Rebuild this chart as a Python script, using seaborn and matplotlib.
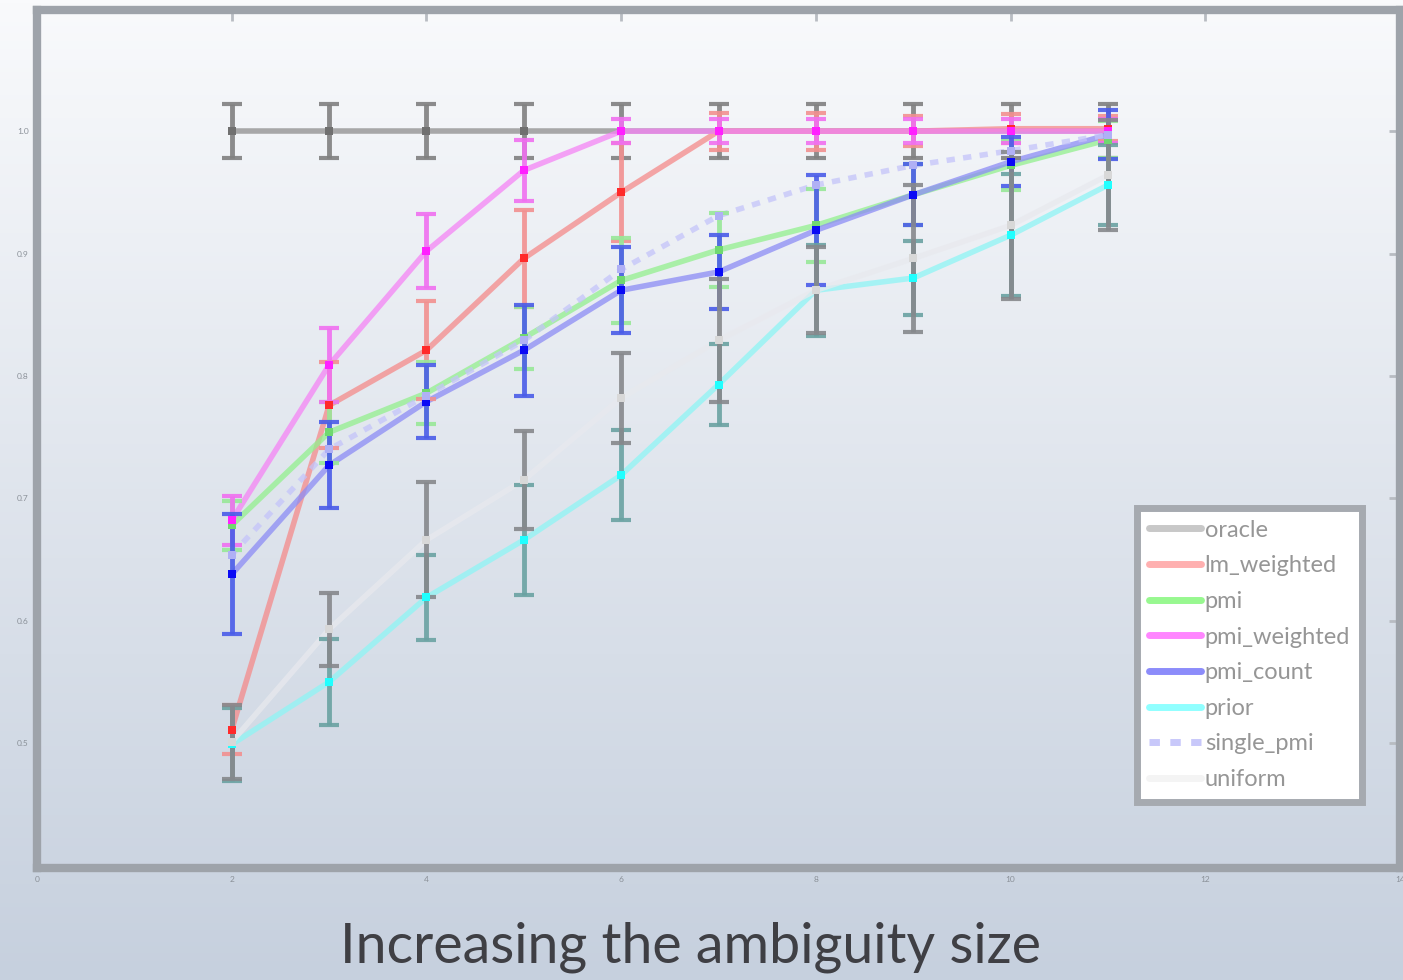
import numpy as np
import pandas as pd
import seaborn as sns
import matplotlib.pyplot as plt
from matplotlib.lines import Line2D
#---------------------------------------------------------------------------#
sizes = [2, 3, 4, 5, 6, 7, 8, 9, 10, 11]

methods = ['oracle', 'lm_weighted', 'pmi', 'pmi_weighted',
           'pmi_count', 'prior', 'single_pmi', 'uniform']

oracle = [1.0, 1.0, 1.0, 1.0, 1.0, 1.0, 1.0, 1.0, 1.0, 1.0]
oracle_err = [0.022, 0.022, 0.022, 0.022, 0.022, 0.022, 0.022, 0.022, 0.022, 0.022]

lm_weighted = [0.511, 0.776, 0.821, 0.896, 0.950, 1.0, 1.0, 1.0, 1.002, 1.002]
lm_weighted_err = [0.02, 0.035, 0.04, 0.04, 0.04, 0.015, 0.015, 0.012, 0.012, 0.01]

pmi = [0.678, 0.754, 0.786, 0.831, 0.878, 0.903, 0.923, 0.948, 0.972, 0.993]
pmi_err = [0.02, 0.025, 0.025, 0.025, 0.035, 0.03, 0.03, 0.025, 0.02, 0.015]

pmi_weighted = [0.682, 0.809, 0.902, 0.968, 1.0, 1.0, 1.0, 1.0, 1.0, 1.0]
pmi_weighted_err = [0.02, 0.03, 0.03, 0.025, 0.01, 0.01, 0.01, 0.01, 0.01, 0.01]

pmi_count = [0.638, 0.727, 0.779, 0.821, 0.870, 0.885, 0.919, 0.948, 0.975, 0.997]
pmi_count_err = [0.049, 0.035, 0.03, 0.037, 0.035, 0.03, 0.045, 0.025, 0.02, 0.02]

prior = [0.499, 0.550, 0.619, 0.666, 0.719, 0.793, 0.870, 0.880, 0.915, 0.956]
prior_err = [0.03, 0.035, 0.035, 0.045, 0.037, 0.033, 0.037, 0.03, 0.05, 0.033]

single_pmi = [0.654, 0.740, 0.784, 0.829, 0.887, 0.931, 0.956, 0.972, 0.984, 0.997]

uniform = [0.501, 0.593, 0.666, 0.715, 0.782, 0.829, 0.870, 0.896, 0.923, 0.964]
uniform_err = [0.03, 0.03, 0.047, 0.04, 0.037, 0.05, 0.035, 0.06, 0.06, 0.045]

values = [oracle, lm_weighted, pmi, pmi_weighted, pmi_count, prior, single_pmi, uniform]
errors = [oracle_err, lm_weighted_err, pmi_err, pmi_weighted_err,
          pmi_count_err, prior_err, None, uniform_err]

line_colors = ['#8E8E8E', '#F58A8A', '#93F08E', '#F584F5',
               '#8C8CF5', '#8EF5F5', '#C4C4FA', '#E8E9EE']
err_colors = ['#808080', '#F29090', '#98E898', '#F070F0',
              '#4A5CE8', '#6AA2A2', '#B8B8F5', '#86888C']
point_colors = ['#707070', '#FF2A2A', '#70D870', '#FF20FF',
                '#0A0AF5', '#20FFFF', '#B0B0F5', '#D8D8D8']
legend_colors = ['#C8C8C8', '#FFB0B0', '#98F890', '#FF86FF',
                 '#8C8CFA', '#90FFFF', '#C8C8FA', '#F4F4F4']

rows = []
for m, v in zip(methods, values):
    for s, a in zip(sizes, v):
        rows.append({'size': s, 'accuracy': a, 'method': m})
df = pd.DataFrame(rows)

sns.set_style('white')
plt.rcParams['font.family'] = ['Lato', 'DejaVu Sans']

fig = plt.figure(figsize=(14.03, 9.8), dpi=100)

# slide background gradient
bg = fig.add_axes([0, 0, 1, 1], zorder=-10)
top = np.array([249, 250, 252]) / 255
bot = np.array([198, 208, 222]) / 255
t = np.linspace(0, 1, 256)[:, None]
grad = top + (bot - top) * t
bg.imshow(grad[:, None, :], aspect='auto', extent=[0, 1, 0, 1])
bg.axis('off')

ax = fig.add_axes([0.0264, 0.1143, 0.9715, 0.8755])
ax.set_facecolor('none')

palette = dict(zip(methods, line_colors))
dashes = {m: '' for m in methods}
dashes['single_pmi'] = (1.5, 1.5)
sns.lineplot(data=df, x='size', y='accuracy', hue='method', style='method',
             palette=palette, dashes=dashes, linewidth=4, alpha=0.75,
             legend=False, ax=ax, zorder=2)

for i, (m, v, e) in enumerate(zip(methods, values, errors)):
    if e is not None:
        ax.errorbar(sizes, v, yerr=e, fmt='none', ecolor=err_colors[i],
                    elinewidth=3.5, capsize=7, capthick=3, alpha=0.9, zorder=3)
    ax.plot(sizes, v, linestyle='none', marker='s', markersize=6,
            color=point_colors[i], markeredgewidth=0, zorder=4)

ax.set_xlim(0, 14)
ax.set_ylim(0.398, 1.099)
ax.set_xticks([0, 2, 4, 6, 8, 10, 12, 14])
ax.set_yticks([0.5, 0.6, 0.7, 0.8, 0.9, 1.0])
ax.tick_params(axis='both', which='both', direction='in', length=8, width=2,
               color='#B8BCC2', labelsize=6, labelcolor='#8A9098',
               top=True, right=True, pad=6)
ax.set_xlabel('')
ax.set_ylabel('')
for sp in ax.spines.values():
    sp.set_color('#9EA3AA')
    sp.set_linewidth(6)

handles = []
for i, m in enumerate(methods):
    ls = (0, (1.5, 1.5)) if m == 'single_pmi' else '-'
    handles.append(Line2D([0], [0], color=legend_colors[i], lw=5, linestyle=ls))
leg = ax.legend(handles, methods, loc='lower right', bbox_to_anchor=(0.972, 0.077),
                fontsize=17, labelcolor='#969696', frameon=True, fancybox=False,
                handlelength=2.2, labelspacing=0.62, borderpad=0.5,
                handletextpad=0.15, framealpha=1, borderaxespad=0)
leg.get_frame().set_edgecolor('#A6AAB0')
leg.get_frame().set_linewidth(5)

fig.text(0.492, 0.018, 'Increasing the ambiguity size', ha='center', va='baseline',
         fontsize=40, color='#3F3F44')

plt.savefig('out.png', dpi=100)
